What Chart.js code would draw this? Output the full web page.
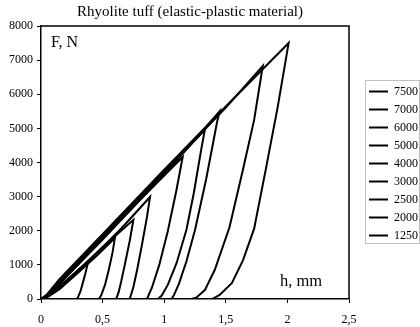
<!DOCTYPE html>
<html><head><meta charset="utf-8">
<script src="https://cdn.jsdelivr.net/npm/chart.js@4.4.0/dist/chart.umd.min.js"></script>
<style>html,body{margin:0;padding:0;background:#fff}canvas{display:block}</style>
</head><body>
<canvas id="c" width="420" height="327"></canvas>
<script>
// ---- data (h in mm, F in N) ----
const seriesLabels = ['7500','7000','6000','5000','4000','3000','2500','2000','1250'];
const xTickLabels = ['0','0,5','1','1,5','2','2,5'];
const yTickLabels = ['0','1000','2000','3000','4000','5000','6000','7000','8000'];

const h7500 = [0, 0.05, 0.15, 0.5, 1.0, 1.5, 2.01, 1.92, 1.83, 1.73, 1.64, 1.55, 1.45, 1.39];
const F7500 = [0, 140, 580, 1900, 3790, 5640, 7500, 5600, 3900, 2060, 1140, 470, 120, 0];
const h7000 = [0, 0.05, 0.15, 0.5, 1.0, 1.5, 1.80, 1.73, 1.64, 1.53, 1.41, 1.33, 1.26, 1.22];
const F7000 = [0, 110, 510, 1850, 3730, 5610, 6830, 5250, 3800, 2100, 850, 260, 40, 0];
const h6000 = [0, 0.05, 0.15, 0.5, 1.0, 1.45, 1.43, 1.34, 1.25, 1.18, 1.12, 1.08, 1.06];
const F6000 = [0, 90, 440, 1760, 3640, 5500, 5200, 3500, 2020, 1100, 450, 120, 0];
const h5000 = [0, 0.05, 0.15, 0.5, 1.0, 1.33, 1.30, 1.24, 1.18, 1.10, 1.03, 0.98, 0.95];
const F5000 = [0, 100, 470, 1790, 3700, 4960, 4370, 3100, 2020, 1050, 420, 100, 0];
const h4000 = [0, 0.05, 0.15, 0.5, 0.8, 1.15, 1.10, 1.03, 0.96, 0.90, 0.86];
const F4000 = [0, 90, 460, 1740, 2900, 4160, 3200, 2000, 1000, 330, 0];
const h3000 = [0, 0.05, 0.15, 0.4, 0.65, 0.885, 0.86, 0.82, 0.78, 0.75, 0.72];
const F3000 = [0, 70, 370, 1160, 2060, 2990, 2400, 1600, 850, 350, 0];
const h2500 = [0, 0.05, 0.15, 0.3, 0.5, 0.75, 0.72, 0.68, 0.65, 0.63, 0.61];
const F2500 = [0, 60, 330, 840, 1520, 2320, 1700, 1000, 500, 200, 0];
const h2000 = [0, 0.05, 0.15, 0.3, 0.45, 0.60, 0.58, 0.55, 0.52, 0.49, 0.47];
const F2000 = [0, 50, 290, 770, 1260, 1790, 1350, 850, 420, 120, 0];
const h1250 = [0, 0.05, 0.15, 0.25, 0.38, 0.36, 0.34, 0.32, 0.30, 0.29];
const F1250 = [0, 60, 300, 620, 1050, 750, 480, 220, 50, 0];

const hSeries = [h7500, h7000, h6000, h5000, h4000, h3000, h2500, h2000, h1250];
const FSeries = [F7500, F7000, F6000, F5000, F4000, F3000, F2500, F2000, F1250];

const FONT = 'Liberation Serif';

const datasets = seriesLabels.map((lab, i) => ({
  label: lab,
  data: hSeries[i].map((h, k) => ({x: h, y: FSeries[i][k]})),
  showLine: true,
  borderColor: '#000',
  backgroundColor: '#000',
  borderWidth: 2,
  pointRadius: 0,
  pointStyle: 'line',
  tension: 0,
  fill: false
}));

const decor = {
  id: 'decor',
  afterLayout(chart) {
    const t = chart.titleBlock;
    if (t) { t.left -= 5; t.right -= 5; }
  },
  afterDraw(chart) {
    const {ctx, chartArea: a} = chart;
    ctx.save();
    ctx.strokeStyle = '#000';
    ctx.lineWidth = 1.5;
    ctx.beginPath();
    ctx.moveTo(a.left, a.top);
    ctx.lineTo(a.right, a.top);
    ctx.lineTo(a.right, a.bottom);
    ctx.stroke();
    ctx.fillStyle = '#000';
    ctx.textBaseline = 'alphabetic';
    ctx.font = '16px "' + FONT + '"';
    ctx.fillText('F, N', a.left + 10, a.top + 21);
    ctx.font = '16.5px "' + FONT + '"';
    ctx.fillText('h, mm', a.right - 69, a.bottom - 13);
    const hb = chart.legend.legendHitBoxes;
    if (hb && hb.length) {
      const f = hb[0], l = hb[hb.length - 1];
      const top = f.top + f.height / 2 - 11.5;
      const bot = l.top + l.height / 2 + 7.5;
      ctx.strokeStyle = '#c0c0c0';
      ctx.lineWidth = 1;
      ctx.strokeRect(Math.round(f.left) - 3.5, Math.round(top) + 0.5, 54, Math.round(bot - top));
    }
    ctx.restore();
  }
};

new Chart(document.getElementById('c'), {
  type: 'scatter',
  data: {datasets},
  options: {
    responsive: false,
    animation: false,
    devicePixelRatio: 1,
    layout: {padding: {left: 9, right: -8, top: 0, bottom: 0}},
    plugins: {
      title: {
        display: true,
        text: 'Rhyolite tuff (elastic-plastic material)',
        fullSize: false,
        color: '#000',
        font: {family: FONT, size: 15, weight: 'normal'},
        padding: {top: 3, bottom: 5}
      },
      legend: {
        position: 'right',
        align: 'center',
        labels: {
          usePointStyle: true,
          pointStyle: 'line',
          pointStyleWidth: 19,
          padding: 6,
          color: '#000',
          font: {family: FONT, size: 12}
        }
      },
      tooltip: {enabled: false}
    },
    scales: {
      x: {
        type: 'linear', min: 0, max: 2.5,
        ticks: {stepSize: 0.5, color: '#000', padding: 10, font: {family: FONT, size: 12},
          callback: (v, i) => xTickLabels[i]},
        grid: {display: true, drawOnChartArea: false, drawTicks: true, tickLength: 4, color: '#000'},
        border: {display: true, color: '#000', width: 1.5},
        afterFit: (s) => { s.height = 28; }
      },
      y: {
        type: 'linear', min: 0, max: 8000,
        ticks: {stepSize: 1000, color: '#000', padding: 4, font: {family: FONT, size: 12},
          callback: (v, i) => yTickLabels[i]},
        grid: {display: true, drawOnChartArea: false, drawTicks: true, tickLength: 4, color: '#000'},
        border: {display: true, color: '#000', width: 1.5},
        afterFit: (s) => { s.width = 32; }
      },
      y2: {
        type: 'linear', position: 'right', min: 0, max: 1, display: true,
        ticks: {display: false}, grid: {display: false}, border: {display: false},
        afterFit: (s) => { s.width = 14; }
      }
    }
  },
  plugins: [decor]
});
</script>
</body></html>
